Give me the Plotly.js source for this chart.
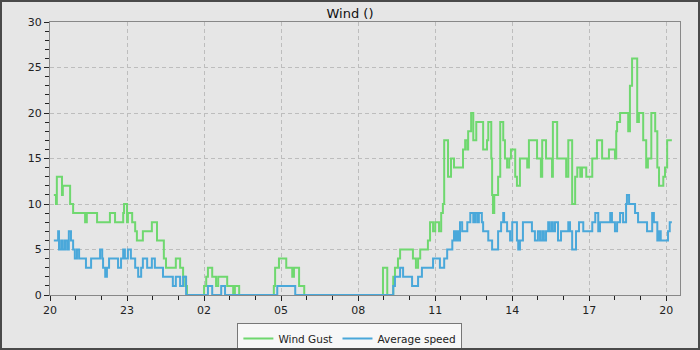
<!DOCTYPE html>
<html>
<head>
<meta charset="utf-8">
<script src="https://cdn.plot.ly/plotly-3.0.1.min.js"></script>
<style>
html,body{margin:0;padding:0;background:#e6e6e6;}
#frame{width:696px;height:346px;border:2px solid #4a4a4a;background:#e6e6e6;}
#chart{width:696px;height:346px;}
</style>
</head>
<body>
<div id="frame"><div id="chart"></div></div>
<script>
// Clock times (first day 20:00 -> next day 20:13) and step values
const gustTimes = ["20:09","20:14","20:16","20:28","20:30","20:47","20:54","21:22","21:26","21:50","22:20","22:32","22:51","22:53","23:00","23:02","23:12","23:19","23:23","23:26","23:37","23:58","00:10","00:26","00:31","00:54","01:04","01:11","01:16","01:20","02:00","02:05","02:09","02:19","02:28","02:33","02:54","03:08","03:12","03:22","04:43","04:46","04:55","05:12","05:26","05:30","05:42","05:54","08:58","09:08","09:22","09:26","09:33","09:38","10:08","10:15","10:20","10:25","10:43","10:48","10:55","11:00","11:09","11:14","11:18","11:21","11:30","11:37","11:44","12:05","12:10","12:15","12:17","12:24","12:29","12:36","12:52","13:01","13:04","13:11","13:13","13:15","13:18","13:27","13:32","13:39","13:43","13:48","13:53","13:57","14:07","14:11","14:18","14:35","14:39","14:58","15:07","15:10","15:19","15:33","15:35","15:45","16:06","16:11","16:20","16:27","16:32","16:39","16:43","16:53","17:07","17:18","17:30","17:46","18:00","18:03","18:05","18:12","18:31","18:35","18:40","18:52","18:56","19:06","19:13","19:17","19:25","19:34","19:39","19:43","19:53","19:57","20:02","20:13"];
const gustValues = [11,10,13,11,12,10,9,8,9,8,9,8,9,10,8,9,8,7,6,6,7,8,6,4,3,4,3,2,1,0,1,2,3,2,1,2,1,0,1,0,1,3,4,3,2,3,1,0,3,0,2,3,4,5,4,3,4,5,6,8,7,8,7,9,10,17,13,15,14,16,17,16,18,20,17,19,16,17,19,15,11,9,11,13,19,17,15,14,15,16,13,12,15,14,17,15,13,17,15,13,19,15,13,17,10,13,14,13,14,13,15,17,15,16,15,18,19,20,18,23,26,19,20,17,14,15,20,18,14,12,13,14,17,17];

const avgTimes = ["20:09","20:19","20:21","20:26","20:30","20:35","20:40","20:44","20:49","20:54","20:58","21:03","21:08","21:24","21:36","21:57","22:02","22:04","22:09","22:13","22:18","22:39","22:46","22:51","22:55","23:02","23:09","23:19","23:26","23:33","23:37","23:47","23:58","00:05","00:24","00:47","00:54","01:04","01:11","01:18","02:09","02:19","02:40","02:49","04:51","05:33","09:22","09:26","09:38","09:45","10:06","10:20","10:29","10:55","11:11","11:21","11:28","11:40","11:44","11:47","11:51","11:54","11:58","12:03","12:15","12:22","12:29","12:33","12:38","12:42","12:49","12:52","13:04","13:13","13:27","13:34","13:39","13:41","13:48","13:55","14:00","14:11","14:14","14:18","14:25","14:46","14:53","15:00","15:05","15:10","15:14","15:19","15:24","15:26","15:31","15:35","15:40","15:47","15:54","16:11","16:15","16:20","16:29","16:36","16:46","17:07","17:14","17:21","17:25","17:49","17:53","18:00","18:05","18:12","18:19","18:26","18:28","18:33","18:47","18:54","19:15","19:27","19:31","19:39","19:43","19:47","20:04","20:08","20:13"];
const avgValues = [6,7,5,6,5,6,5,7,6,5,4,5,4,3,4,5,4,3,2,3,4,3,4,5,4,5,4,3,2,3,4,3,4,3,2,1,2,1,2,0,1,0,1,0,1,0,1,2,3,2,1,2,3,4,3,4,5,6,7,6,7,6,8,7,8,9,8,9,8,9,8,7,6,5,7,8,9,8,7,6,8,6,5,6,8,7,6,7,6,7,6,7,8,7,8,7,8,6,7,8,7,5,7,8,7,8,9,7,8,9,8,7,8,9,8,10,11,10,9,8,7,9,8,6,7,6,7,8,8];

const seriesNames = ["Wind Gust", "Average speed"];
const chartTitle = "Wind ()";

function toDates(times) {
  let day = 1, prev = -1;
  return times.map(t => {
    const h = parseInt(t.slice(0, 2), 10);
    if (prev >= 20 && h < 20) day = 2;
    prev = h;
    return "2024-05-0" + day + " " + t;
  });
}

const traces = [
  {x: toDates(gustTimes), y: gustValues, name: seriesNames[0], type: "scatter", mode: "lines",
   line: {shape: "hv", color: "#6fd86f", width: 2}},
  {x: toDates(avgTimes), y: avgValues, name: seriesNames[1], type: "scatter", mode: "lines",
   line: {shape: "hv", color: "#4aa8da", width: 2}}
];

const font = {family: "DejaVu Sans, sans-serif", size: 11, color: "#222"};

const layout = {
  width: 696, height: 346,
  paper_bgcolor: "#e6e6e6", plot_bgcolor: "#e6e6e6",
  margin: {l: 48, r: 18, t: 20, b: 53, autoexpand: false},
  font: font,
  title: {text: chartTitle, font: {family: "DejaVu Sans, sans-serif", size: 13, color: "#111"},
          x: 0.5, xanchor: "center", y: 0.968, yanchor: "middle"},
  showlegend: true,
  legend: {orientation: "h", x: 0.476, xanchor: "center", y: -0.103, yanchor: "top",
           bgcolor: "#f7f7f7", bordercolor: "#777", borderwidth: 1, itemwidth: 30, tracegroupgap: 0,
           font: {family: "DejaVu Sans, sans-serif", size: 10.5, color: "#222"}},
  xaxis: {
    type: "date",
    range: ["2024-05-01 20:00", "2024-05-02 20:32"],
    tick0: "2024-05-01 20:00", dtick: 3 * 3600000, tickformat: "%H",
    ticks: "outside", ticklen: 5, tickcolor: "#222",
    showline: true, linecolor: "#888", linewidth: 1, mirror: true,
    showgrid: true, gridcolor: "#bdbdbd", griddash: "4px,3px", gridwidth: 1,
    zeroline: false,
    minor: {dtick: 3600000, tick0: "2024-05-01 20:00", ticks: "outside", ticklen: 4, tickcolor: "#222", showgrid: false},
    tickfont: font, fixedrange: true
  },
  yaxis: {
    range: [0, 30], dtick: 5, tick0: 0,
    ticks: "outside", ticklen: 5, tickcolor: "#222",
    showline: true, linecolor: "#888", linewidth: 1, mirror: true,
    showgrid: true, gridcolor: "#bdbdbd", griddash: "4px,3px", gridwidth: 1,
    zeroline: false,
    minor: {dtick: 1, ticks: "outside", ticklen: 4, tickcolor: "#222", showgrid: false},
    tickfont: font, fixedrange: true
  }
};

Plotly.newPlot("chart", traces, layout, {displayModeBar: false, staticPlot: true});
</script>
</body>
</html>
